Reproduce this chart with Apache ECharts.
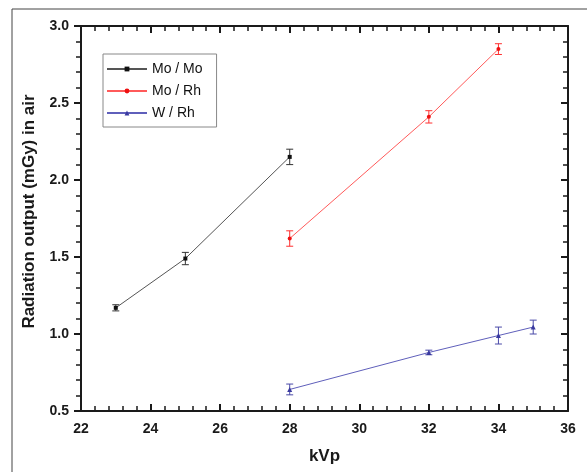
<!DOCTYPE html>
<html>
<head>
<meta charset="utf-8">
<script src="https://cdn.jsdelivr.net/npm/echarts@6/dist/echarts.min.js"></script>
<style>
  html, body { margin: 0; padding: 0; background: #fff; }
  #chart { width: 587px; height: 472px; }
</style>
</head>
<body>
<div id="chart"></div>
<script>
// Tube voltage (kVp), air kerma output (mGy) and standard deviations per target/filter
const kvpMoMo = [23, 25, 28];
const outMoMo = [1.17, 1.49, 2.15];
const errMoMo = [0.02, 0.04, 0.05];

const kvpMoRh = [28, 32, 34];
const outMoRh = [1.62, 2.41, 2.85];
const errMoRh = [0.05, 0.04, 0.035];

const kvpWRh = [28, 32, 34, 35];
const outWRh = [0.64, 0.88, 0.99, 1.045];
const errWRh = [0.035, 0.015, 0.055, 0.045];

const seriesNames = ['Mo / Mo', 'Mo / Rh', 'W / Rh'];
const xTicks = { min: 22, max: 36, interval: 2, minorSplit: 5 };
const yTicks = { min: 0.5, max: 3.0, interval: 0.5, minorSplit: 5 };

const FONT = '"Liberation Sans", Arial, sans-serif';
const INK = '#1a1a1a';

function pairs(xs, ys) { return xs.map((x, i) => [x, ys[i]]); }
function triples(xs, ys, es) { return xs.map((x, i) => [x, ys[i], es[i]]); }

function errorBars(name, xs, ys, es, color) {
  return {
    type: 'custom',
    name: name + ' err',
    xAxisIndex: 0,
    yAxisIndex: 0,
    z: 3,
    silent: true,
    data: triples(xs, ys, es),
    renderItem: function (params, api) {
      const x = api.value(0), y = api.value(1), e = api.value(2);
      const hi = api.coord([x, y + e]);
      const lo = api.coord([x, y - e]);
      const cap = 3.5;
      const style = { stroke: color, lineWidth: 1, fill: null };
      return {
        type: 'group',
        children: [
          { type: 'line', shape: { x1: hi[0], y1: hi[1], x2: lo[0], y2: lo[1] }, style: style },
          { type: 'line', shape: { x1: hi[0] - cap, y1: hi[1], x2: hi[0] + cap, y2: hi[1] }, style: style },
          { type: 'line', shape: { x1: lo[0] - cap, y1: lo[1], x2: lo[0] + cap, y2: lo[1] }, style: style }
        ]
      };
    }
  };
}

function lineSeries(name, xs, ys, lineColor, markColor, symbol, size) {
  return {
    type: 'line',
    name: name,
    xAxisIndex: 0,
    yAxisIndex: 0,
    data: pairs(xs, ys),
    symbol: symbol,
    symbolSize: size,
    showSymbol: true,
    z: 4,
    lineStyle: { color: lineColor, width: 1 },
    itemStyle: { color: markColor },
    emphasis: { disabled: true }
  };
}

const tickLabel = { fontFamily: FONT, fontWeight: 'bold', fontSize: 14, color: INK };

// Framed axis: line, major ticks and minor ticks; labels only where asked
function axis(position, t, inside, extra) {
  return Object.assign({
    type: 'value',
    position: position,
    min: t.min,
    max: t.max,
    interval: t.interval,
    axisLine: { show: true, lineStyle: { color: INK, width: 2 } },
    axisTick: { show: true, inside: inside, length: 7, lineStyle: { color: INK, width: 2 } },
    minorTick: { show: true, splitNumber: t.minorSplit, length: 5, lineStyle: { color: INK, width: 1.5 } },
    axisLabel: { show: false },
    splitLine: { show: false },
    minorSplitLine: { show: false }
  }, extra || {});
}

const chart = echarts.init(document.getElementById('chart'), null, { renderer: 'canvas' });

chart.setOption({
  animation: false,
  backgroundColor: '#fff',
  graphic: [{
    type: 'rect',
    shape: { x: 12, y: 9, width: 700, height: 600 },
    style: { fill: null, stroke: '#444', lineWidth: 1 },
    silent: true,
    z: -10
  }],
  grid: { left: 81, right: 19, top: 26, bottom: 61, containLabel: false },
  legend: {
    data: seriesNames,
    orient: 'vertical',
    left: 103,
    top: 54,
    padding: [7, 14, 6, 3],
    itemGap: 6,
    itemWidth: 40,
    itemHeight: 6,
    borderColor: '#888',
    borderWidth: 1,
    backgroundColor: '#fff',
    textStyle: { fontFamily: FONT, fontSize: 14, color: '#111', lineHeight: 16 },
    selectedMode: false
  },
  xAxis: [
    axis('bottom', xTicks, true, {
      name: 'kVp',
      nameLocation: 'middle',
      nameGap: 37,
      nameTextStyle: { fontFamily: FONT, fontWeight: 'bold', fontSize: 17, color: INK },
      axisLabel: Object.assign({ show: true, margin: 11 }, tickLabel)
    }),
    axis('top', xTicks, true)
  ],
  yAxis: [
    axis('left', yTicks, false, {
      name: 'Radiation output (mGy) in air',
      nameLocation: 'middle',
      nameGap: 43,
      nameTextStyle: {
        fontFamily: FONT, fontWeight: 'bold', fontSize: 17, color: INK,
        padding: [0, 0, 0, 14]
      },
      axisLabel: Object.assign({ show: true, margin: 12, formatter: v => v.toFixed(1) }, tickLabel)
    }),
    axis('right', yTicks, true)
  ],
  series: [
    lineSeries(seriesNames[0], kvpMoMo, outMoMo, '#555555', '#111111', 'rect', 4),
    lineSeries(seriesNames[1], kvpMoRh, outMoRh, '#ff5a5a', '#ee1111', 'circle', 4),
    lineSeries(seriesNames[2], kvpWRh, outWRh, '#5f5fbb', '#3a3aa0', 'triangle', 5),
    errorBars(seriesNames[0], kvpMoMo, outMoMo, errMoMo, '#333333'),
    errorBars(seriesNames[1], kvpMoRh, outMoRh, errMoRh, '#ff3030'),
    errorBars(seriesNames[2], kvpWRh, outWRh, errWRh, '#4a4aa8')
  ]
});
</script>
</body>
</html>
